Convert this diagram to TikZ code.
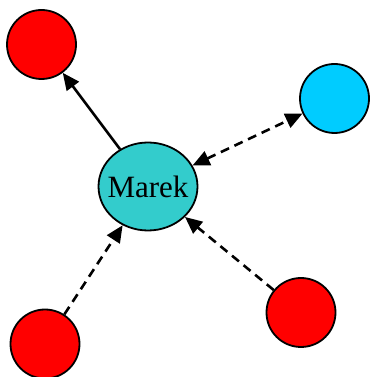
\documentclass[tikz,border=0pt]{standalone}
\usepackage{fontspec}
\setmainfont{Liberation Serif}
\usetikzlibrary{arrows.meta,shapes.geometric}
\definecolor{nodered}{RGB}{255,0,0}
\definecolor{nodeblue}{RGB}{0,204,255}
\definecolor{nodeteal}{RGB}{51,204,204}
\begin{document}
\begin{tikzpicture}[x=1pt,y=1pt,
  ball/.style={circle,draw=black,line width=1.8pt,minimum size=69pt,inner sep=0pt},
  marekbox/.style={ellipse,draw=black,line width=1.8pt,fill=nodeteal,minimum width=99pt,minimum height=88pt,inner sep=0pt,font=\fontsize{31}{33}\selectfont},
  link/.style={line width=2.6pt,-{Triangle[length=17pt,width=15pt]}},
  dlink/.style={link,dash pattern=on 9pt off 6pt}]
\useasboundingbox (0,0) rectangle (369,377);
\node[marekbox] (m) at (148,190.5) {\makebox[0pt]{Marek}};
\node[ball,fill=nodered] (tl) at (41.5,332.5) {};
\node[ball,fill=nodeblue] (tr) at (334.5,278.5) {};
\node[ball,fill=nodered] (bl) at (45,33) {};
\node[ball,fill=nodered] (br) at (301,64.5) {};
\draw[link] (m) -- (tl);
\draw[dlink,{Triangle[length=17pt,width=15pt]}-{Triangle[length=17pt,width=15pt]}] (m) -- (tr);
\draw[dlink] (bl) -- (m);
\draw[dlink] (br) -- (m);
\end{tikzpicture}
\end{document}
